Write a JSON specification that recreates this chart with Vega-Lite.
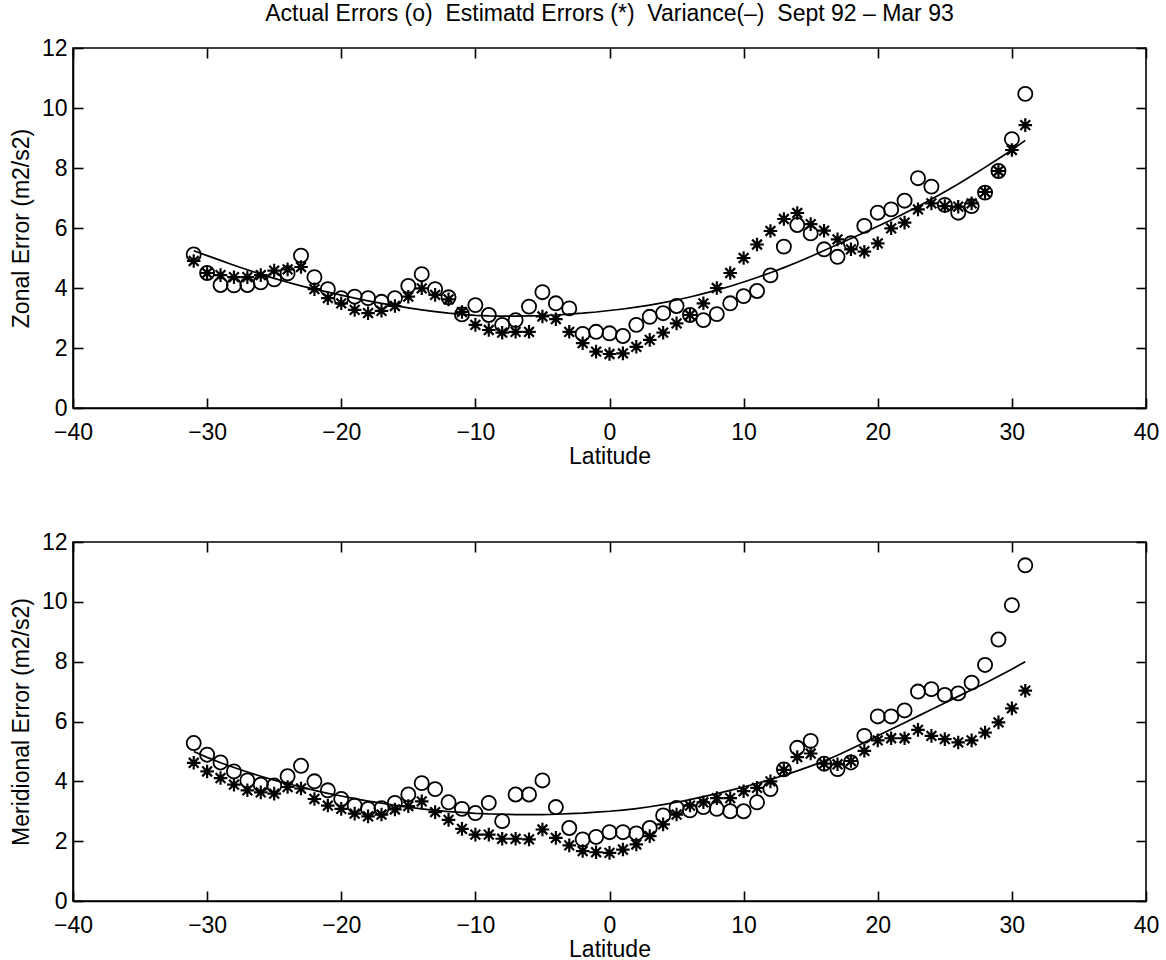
{
  "$schema": "https://vega.github.io/schema/vega-lite/v6.json",
  "background": "white",
  "padding": {"left": 9, "top": 3, "right": 2, "bottom": 0},
  "title": {
    "text": "Actual Errors (o) \u00a0Estimatd Errors (*) \u00a0Variance(–) \u00a0Sept 92 – Mar 93",
    "font": "Liberation Sans",
    "fontSize": 23,
    "fontWeight": "normal",
    "color": "black",
    "anchor": "middle",
    "frame": "group",
    "offset": 10
  },
  "config": {
    "font": "Liberation Sans",
    "view": {"stroke": "black", "strokeWidth": 1.6},
    "axis": {
      "grid": false,
      "domainColor": "black",
      "domainWidth": 1.6,
      "tickColor": "black",
      "tickWidth": 1.6,
      "tickSize": -10,
      "labelPadding": 16,
      "labelFont": "Liberation Sans",
      "labelFontSize": 23,
      "labelColor": "black",
      "labelFlush": false,
      "labelOverlap": false,
      "titleFont": "Liberation Sans",
      "titleFontSize": 23,
      "titleFontWeight": "normal",
      "titleColor": "black"
    },
    "axisBottom": {"labelPadding": 23}
  },
  "datasets": {
    "zonal": [
      {"lat": -31, "actual": 5.12, "estimated": 4.9, "variance": 5.24},
      {"lat": -30, "actual": 4.5, "estimated": 4.5, "variance": 5.08},
      {"lat": -29, "actual": 4.1, "estimated": 4.43, "variance": 4.92},
      {"lat": -28, "actual": 4.09, "estimated": 4.36, "variance": 4.76},
      {"lat": -27, "actual": 4.1, "estimated": 4.36, "variance": 4.61},
      {"lat": -26, "actual": 4.19, "estimated": 4.43, "variance": 4.46},
      {"lat": -25, "actual": 4.29, "estimated": 4.58, "variance": 4.32},
      {"lat": -24, "actual": 4.49, "estimated": 4.62, "variance": 4.19},
      {"lat": -23, "actual": 5.08, "estimated": 4.7, "variance": 4.07},
      {"lat": -22, "actual": 4.36, "estimated": 3.96, "variance": 3.96},
      {"lat": -21, "actual": 3.96, "estimated": 3.66, "variance": 3.86},
      {"lat": -20, "actual": 3.66, "estimated": 3.49, "variance": 3.76},
      {"lat": -19, "actual": 3.71, "estimated": 3.27, "variance": 3.66},
      {"lat": -18, "actual": 3.66, "estimated": 3.16, "variance": 3.57},
      {"lat": -17, "actual": 3.54, "estimated": 3.24, "variance": 3.49},
      {"lat": -16, "actual": 3.66, "estimated": 3.4, "variance": 3.41},
      {"lat": -15, "actual": 4.07, "estimated": 3.71, "variance": 3.34},
      {"lat": -14, "actual": 4.46, "estimated": 3.99, "variance": 3.27},
      {"lat": -13, "actual": 3.96, "estimated": 3.77, "variance": 3.21},
      {"lat": -12, "actual": 3.69, "estimated": 3.62, "variance": 3.16},
      {"lat": -11, "actual": 3.12, "estimated": 3.2, "variance": 3.12},
      {"lat": -10, "actual": 3.43, "estimated": 2.77, "variance": 3.09},
      {"lat": -9, "actual": 3.1, "estimated": 2.6, "variance": 3.07},
      {"lat": -8, "actual": 2.77, "estimated": 2.51, "variance": 3.06},
      {"lat": -7, "actual": 2.93, "estimated": 2.54, "variance": 3.06},
      {"lat": -6, "actual": 3.38, "estimated": 2.54, "variance": 3.07},
      {"lat": -5, "actual": 3.86, "estimated": 3.05, "variance": 3.08},
      {"lat": -4, "actual": 3.49, "estimated": 2.96, "variance": 3.1},
      {"lat": -3, "actual": 3.32, "estimated": 2.54, "variance": 3.13},
      {"lat": -2, "actual": 2.47, "estimated": 2.16, "variance": 3.16},
      {"lat": -1, "actual": 2.54, "estimated": 1.88, "variance": 3.2},
      {"lat": 0, "actual": 2.49, "estimated": 1.8, "variance": 3.25},
      {"lat": 1, "actual": 2.4, "estimated": 1.82, "variance": 3.3},
      {"lat": 2, "actual": 2.77, "estimated": 2.04, "variance": 3.36},
      {"lat": 3, "actual": 3.04, "estimated": 2.27, "variance": 3.43},
      {"lat": 4, "actual": 3.16, "estimated": 2.51, "variance": 3.51},
      {"lat": 5, "actual": 3.4, "estimated": 2.82, "variance": 3.6},
      {"lat": 6, "actual": 3.1, "estimated": 3.1, "variance": 3.7},
      {"lat": 7, "actual": 2.93, "estimated": 3.49, "variance": 3.81},
      {"lat": 8, "actual": 3.13, "estimated": 4.0, "variance": 3.93},
      {"lat": 9, "actual": 3.49, "estimated": 4.5, "variance": 4.06},
      {"lat": 10, "actual": 3.73, "estimated": 5.0, "variance": 4.2},
      {"lat": 11, "actual": 3.9, "estimated": 5.45, "variance": 4.35},
      {"lat": 12, "actual": 4.42, "estimated": 5.9, "variance": 4.51},
      {"lat": 13, "actual": 5.38, "estimated": 6.3, "variance": 4.68},
      {"lat": 14, "actual": 6.1, "estimated": 6.5, "variance": 4.86},
      {"lat": 15, "actual": 5.82, "estimated": 6.13, "variance": 5.05},
      {"lat": 16, "actual": 5.29, "estimated": 5.91, "variance": 5.25},
      {"lat": 17, "actual": 5.04, "estimated": 5.62, "variance": 5.45},
      {"lat": 18, "actual": 5.49, "estimated": 5.29, "variance": 5.65},
      {"lat": 19, "actual": 6.07, "estimated": 5.21, "variance": 5.85},
      {"lat": 20, "actual": 6.51, "estimated": 5.49, "variance": 6.06},
      {"lat": 21, "actual": 6.62, "estimated": 5.99, "variance": 6.27},
      {"lat": 22, "actual": 6.91, "estimated": 6.18, "variance": 6.49},
      {"lat": 23, "actual": 7.66, "estimated": 6.62, "variance": 6.72},
      {"lat": 24, "actual": 7.38, "estimated": 6.82, "variance": 6.96},
      {"lat": 25, "actual": 6.77, "estimated": 6.73, "variance": 7.21},
      {"lat": 26, "actual": 6.51, "estimated": 6.71, "variance": 7.47},
      {"lat": 27, "actual": 6.73, "estimated": 6.82, "variance": 7.74},
      {"lat": 28, "actual": 7.18, "estimated": 7.2, "variance": 8.02},
      {"lat": 29, "actual": 7.9, "estimated": 7.9, "variance": 8.31},
      {"lat": 30, "actual": 8.96, "estimated": 8.6, "variance": 8.6},
      {"lat": 31, "actual": 10.47, "estimated": 9.43, "variance": 8.92}
    ],
    "meridional": [
      {"lat": -31, "actual": 5.28, "estimated": 4.62, "variance": 5.0},
      {"lat": -30, "actual": 4.89, "estimated": 4.33, "variance": 4.8},
      {"lat": -29, "actual": 4.63, "estimated": 4.11, "variance": 4.62},
      {"lat": -28, "actual": 4.33, "estimated": 3.89, "variance": 4.46},
      {"lat": -27, "actual": 4.03, "estimated": 3.7, "variance": 4.31},
      {"lat": -26, "actual": 3.89, "estimated": 3.63, "variance": 4.17},
      {"lat": -25, "actual": 3.86, "estimated": 3.59, "variance": 4.04},
      {"lat": -24, "actual": 4.17, "estimated": 3.81, "variance": 3.92},
      {"lat": -23, "actual": 4.52, "estimated": 3.76, "variance": 3.81},
      {"lat": -22, "actual": 4.0, "estimated": 3.41, "variance": 3.7},
      {"lat": -21, "actual": 3.7, "estimated": 3.19, "variance": 3.6},
      {"lat": -20, "actual": 3.41, "estimated": 3.08, "variance": 3.51},
      {"lat": -19, "actual": 3.19, "estimated": 2.92, "variance": 3.42},
      {"lat": -18, "actual": 3.08, "estimated": 2.83, "variance": 3.34},
      {"lat": -17, "actual": 3.1, "estimated": 2.89, "variance": 3.27},
      {"lat": -16, "actual": 3.28, "estimated": 3.06, "variance": 3.2},
      {"lat": -15, "actual": 3.56, "estimated": 3.17, "variance": 3.14},
      {"lat": -14, "actual": 3.94, "estimated": 3.33, "variance": 3.08},
      {"lat": -13, "actual": 3.74, "estimated": 2.97, "variance": 3.03},
      {"lat": -12, "actual": 3.3, "estimated": 2.71, "variance": 2.99},
      {"lat": -11, "actual": 3.08, "estimated": 2.41, "variance": 2.96},
      {"lat": -10, "actual": 2.94, "estimated": 2.22, "variance": 2.93},
      {"lat": -9, "actual": 3.28, "estimated": 2.22, "variance": 2.91},
      {"lat": -8, "actual": 2.67, "estimated": 2.08, "variance": 2.9},
      {"lat": -7, "actual": 3.56, "estimated": 2.08, "variance": 2.89},
      {"lat": -6, "actual": 3.56, "estimated": 2.06, "variance": 2.89},
      {"lat": -5, "actual": 4.03, "estimated": 2.39, "variance": 2.89},
      {"lat": -4, "actual": 3.14, "estimated": 2.11, "variance": 2.9},
      {"lat": -3, "actual": 2.44, "estimated": 1.86, "variance": 2.92},
      {"lat": -2, "actual": 2.06, "estimated": 1.67, "variance": 2.94},
      {"lat": -1, "actual": 2.14, "estimated": 1.63, "variance": 2.97},
      {"lat": 0, "actual": 2.3, "estimated": 1.61, "variance": 3.0},
      {"lat": 1, "actual": 2.3, "estimated": 1.72, "variance": 3.04},
      {"lat": 2, "actual": 2.26, "estimated": 1.89, "variance": 3.09},
      {"lat": 3, "actual": 2.44, "estimated": 2.17, "variance": 3.15},
      {"lat": 4, "actual": 2.86, "estimated": 2.56, "variance": 3.22},
      {"lat": 5, "actual": 3.11, "estimated": 2.89, "variance": 3.3},
      {"lat": 6, "actual": 3.03, "estimated": 3.19, "variance": 3.39},
      {"lat": 7, "actual": 3.14, "estimated": 3.3, "variance": 3.49},
      {"lat": 8, "actual": 3.08, "estimated": 3.44, "variance": 3.59},
      {"lat": 9, "actual": 3.0, "estimated": 3.44, "variance": 3.7},
      {"lat": 10, "actual": 3.0, "estimated": 3.67, "variance": 3.81},
      {"lat": 11, "actual": 3.3, "estimated": 3.78, "variance": 3.93},
      {"lat": 12, "actual": 3.74, "estimated": 4.0, "variance": 4.06},
      {"lat": 13, "actual": 4.4, "estimated": 4.38, "variance": 4.2},
      {"lat": 14, "actual": 5.12, "estimated": 4.81, "variance": 4.35},
      {"lat": 15, "actual": 5.35, "estimated": 4.93, "variance": 4.51},
      {"lat": 16, "actual": 4.59, "estimated": 4.59, "variance": 4.68},
      {"lat": 17, "actual": 4.41, "estimated": 4.57, "variance": 4.87},
      {"lat": 18, "actual": 4.63, "estimated": 4.68, "variance": 5.08},
      {"lat": 19, "actual": 5.52, "estimated": 5.02, "variance": 5.3},
      {"lat": 20, "actual": 6.17, "estimated": 5.37, "variance": 5.52},
      {"lat": 21, "actual": 6.17, "estimated": 5.44, "variance": 5.74},
      {"lat": 22, "actual": 6.37, "estimated": 5.44, "variance": 5.96},
      {"lat": 23, "actual": 7.0, "estimated": 5.72, "variance": 6.18},
      {"lat": 24, "actual": 7.08, "estimated": 5.52, "variance": 6.4},
      {"lat": 25, "actual": 6.89, "estimated": 5.41, "variance": 6.62},
      {"lat": 26, "actual": 6.94, "estimated": 5.3, "variance": 6.84},
      {"lat": 27, "actual": 7.3, "estimated": 5.37, "variance": 7.06},
      {"lat": 28, "actual": 7.89, "estimated": 5.63, "variance": 7.28},
      {"lat": 29, "actual": 8.74, "estimated": 5.97, "variance": 7.51},
      {"lat": 30, "actual": 9.89, "estimated": 6.44, "variance": 7.75},
      {"lat": 31, "actual": 11.22, "estimated": 7.03, "variance": 8.0}
    ]
  },
  "bounds": "flush",
  "spacing": 134,
  "vconcat": [
    {
      "width": 1073,
      "height": 360,
      "data": {"name": "zonal"},
      "resolve": {"axis": {"x": "independent", "y": "independent"}},
      "layer": [
        {
          "mark": {"type": "line", "color": "black", "strokeWidth": 1.7},
          "encoding": {
            "x": {"field": "lat", "type": "quantitative", "scale": {"domain": [-40, 40], "nice": false, "zero": false},
                  "axis": {"orient": "bottom", "values": [-40, -30, -20, -10, 0, 10, 20, 30, 40], "title": "Latitude", "titlePadding": 1}},
            "y": {"field": "variance", "type": "quantitative", "scale": {"domain": [0, 12], "nice": false},
                  "axis": {"orient": "left", "values": [0, 2, 4, 6, 8, 10, 12], "title": "Zonal Error (m2/s2)", "titlePadding": 8}}
          }
        },
        {
          "mark": {"type": "point", "shape": "circle", "filled": false, "color": "black", "size": 200, "strokeWidth": 1.8, "opacity": 1},
          "encoding": {
            "x": {"field": "lat", "type": "quantitative",
                  "axis": {"orient": "top", "values": [-40, -30, -20, -10, 0, 10, 20, 30, 40], "labels": false, "domain": false, "title": null}},
            "y": {"field": "actual", "type": "quantitative",
                  "axis": {"orient": "right", "values": [0, 2, 4, 6, 8, 10, 12], "labels": false, "domain": false, "title": null}}
          }
        },
        {
          "mark": {"type": "point", "shape": "M-1,0L1,0M0,-1L0,1M-0.72,-0.72L0.72,0.72M-0.72,0.72L0.72,-0.72", "filled": false, "color": "black", "size": 185, "strokeWidth": 2.2, "opacity": 1},
          "encoding": {
            "x": {"field": "lat", "type": "quantitative", "axis": null},
            "y": {"field": "estimated", "type": "quantitative", "axis": null}
          }
        }
      ]
    },
    {
      "width": 1073,
      "height": 359,
      "data": {"name": "meridional"},
      "resolve": {"axis": {"x": "independent", "y": "independent"}},
      "layer": [
        {
          "mark": {"type": "line", "color": "black", "strokeWidth": 1.7},
          "encoding": {
            "x": {"field": "lat", "type": "quantitative", "scale": {"domain": [-40, 40], "nice": false, "zero": false},
                  "axis": {"orient": "bottom", "values": [-40, -30, -20, -10, 0, 10, 20, 30, 40], "title": "Latitude", "titlePadding": 1}},
            "y": {"field": "variance", "type": "quantitative", "scale": {"domain": [0, 12], "nice": false},
                  "axis": {"orient": "left", "values": [0, 2, 4, 6, 8, 10, 12], "title": "Meridional Error (m2/s2)", "titlePadding": 8}}
          }
        },
        {
          "mark": {"type": "point", "shape": "circle", "filled": false, "color": "black", "size": 200, "strokeWidth": 1.8, "opacity": 1},
          "encoding": {
            "x": {"field": "lat", "type": "quantitative",
                  "axis": {"orient": "top", "values": [-40, -30, -20, -10, 0, 10, 20, 30, 40], "labels": false, "domain": false, "title": null}},
            "y": {"field": "actual", "type": "quantitative",
                  "axis": {"orient": "right", "values": [0, 2, 4, 6, 8, 10, 12], "labels": false, "domain": false, "title": null}}
          }
        },
        {
          "mark": {"type": "point", "shape": "M-1,0L1,0M0,-1L0,1M-0.72,-0.72L0.72,0.72M-0.72,0.72L0.72,-0.72", "filled": false, "color": "black", "size": 185, "strokeWidth": 2.2, "opacity": 1},
          "encoding": {
            "x": {"field": "lat", "type": "quantitative", "axis": null},
            "y": {"field": "estimated", "type": "quantitative", "axis": null}
          }
        }
      ]
    }
  ]
}
